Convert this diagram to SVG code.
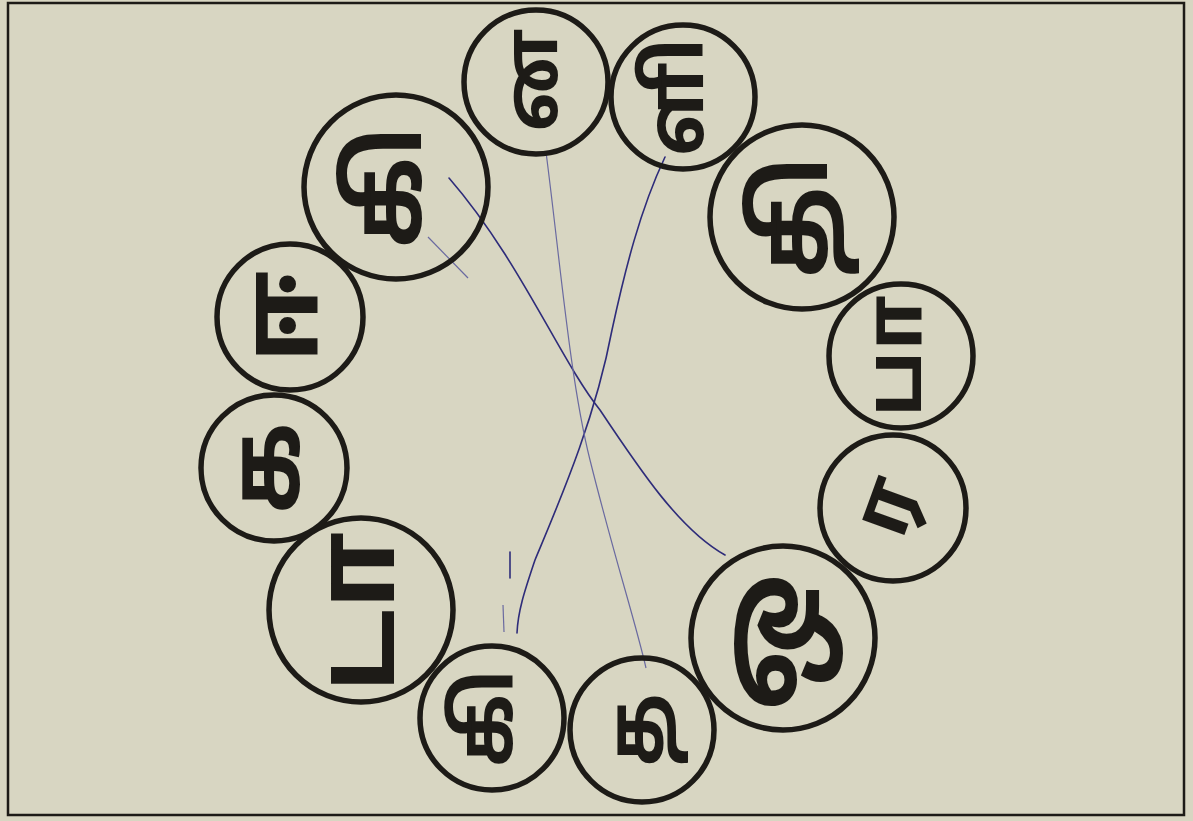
<svg xmlns="http://www.w3.org/2000/svg" width="1193" height="821" viewBox="0 0 1193 821">
<style>
.c{fill:none;stroke:#1d1b17;stroke-width:5.5}
.t{font-family:"Noto Sans Tamil","Noto Sans","DejaVu Sans",sans-serif;font-weight:bold;fill:#1d1b17;text-anchor:middle;dominant-baseline:central}
.b{font-size:100px}
.s{font-size:80px}
.ln{fill:none;stroke:#2e2c7a;stroke-width:1.6;stroke-linecap:round}
.lt{fill:none;stroke:#6a6aa0;stroke-width:1.2}
</style>
<rect x="0" y="0" width="1193" height="821" fill="#d8d6c2"/>
<rect x="8" y="3" width="1176" height="812" fill="none" stroke="#1d1b17" stroke-width="2.5"/>
<g id="connectors">
<path class="ln" d="M449 178 C520 260 560 360 600 410 C640 470 680 530 725 555"/>
<path class="ln" d="M665 157 C640 210 625 270 612 330 C595 420 560 500 535 560 C525 590 518 610 517 633"/>
<path class="lt" d="M546 152 C560 260 570 380 590 460 C615 560 635 620 646 668"/>
<path class="ln" d="M510 552 L510 578"/>
<path class="lt" d="M503 605 L504 632"/>
<path class="lt" d="M428 237 L468 278"/>
</g>
<g id="nA"><circle class="c" cx="536" cy="82" r="72"/><text class="t" style="font-size:76px" transform="translate(538 80) rotate(-90)">ன</text></g>
<g id="nB"><circle class="c" cx="683" cy="97" r="72"/><text class="t s" transform="translate(683 97) rotate(-90)">ளி</text></g>
<g id="nC"><circle class="c" cx="802" cy="217" r="92"/><text class="t b" transform="translate(802 217) rotate(-90)">தி</text></g>
<g id="nD"><circle class="c" cx="901" cy="356" r="72"/><text class="t s" transform="translate(901 356) rotate(-90)">பா</text></g>
<g id="nE"><circle class="c" cx="893" cy="508" r="73"/><text class="t s" transform="translate(893 508) rotate(-70)">ர</text></g>
<g id="nF"><circle class="c" cx="783" cy="638" r="92"/><text class="t" style="font-size:122px" transform="translate(773 642) rotate(-90)">ஒ</text></g>
<g id="nG"><circle class="c" cx="642" cy="730" r="72"/><text class="t s" transform="translate(642 730) rotate(-90)">த</text></g>
<g id="nH"><circle class="c" cx="492" cy="718" r="72"/><text class="t s" transform="translate(492 718) rotate(-90)">கி</text></g>
<g id="nI"><circle class="c" cx="361" cy="610" r="92"/><text class="t" style="font-size:112px" transform="translate(366 612) rotate(-90)">டா</text></g>
<g id="nJ"><circle class="c" cx="274" cy="468" r="73"/><text class="t" style="font-size:100px" transform="translate(274 468) rotate(-90)">க</text></g>
<g id="nK"><circle class="c" cx="290" cy="317" r="73"/><text class="t" style="font-size:110px" transform="translate(290 317) rotate(-90)">ஈ</text></g>
<g id="nL"><circle class="c" cx="396" cy="187" r="92"/><text class="t b" transform="translate(396 187) rotate(-90)">கி</text></g>
</svg>
